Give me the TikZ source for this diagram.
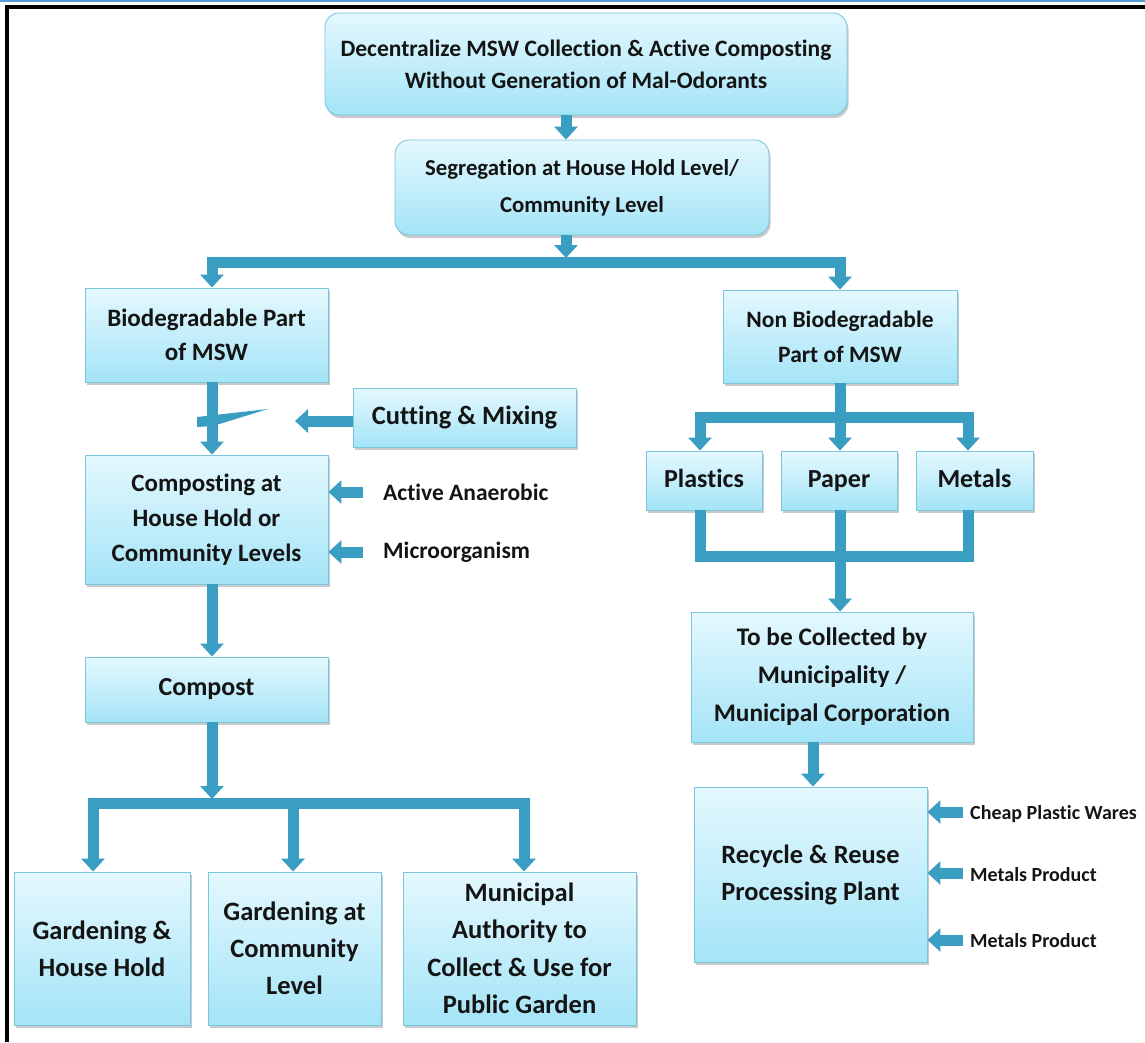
\documentclass[tikz,border=0pt]{standalone}
\usepackage{fontspec}
\setmainfont[Ligatures=NoCommon]{Carlito}
\usetikzlibrary{arrows.meta,shadows,calc}
\definecolor{flowblue}{HTML}{3A9DC2}
\definecolor{boxtop}{HTML}{E4F8FE}
\definecolor{boxbot}{HTML}{A4E4F7}
\definecolor{boxline}{HTML}{7AC6DC}
\definecolor{frameblue}{HTML}{5B9BD5}
\definecolor{ink}{HTML}{141414}
\newcommand{\fs}[2]{\bfseries\fontsize{#1}{#2}\selectfont}
\tikzset{
  stage/.style={draw=boxline, line width=0.9pt, top color=boxtop, bottom color=boxbot,
    align=center, text=ink, inner sep=2pt,
    font=\fs{25}{35},
    drop shadow={shadow xshift=1.5pt, shadow yshift=-3pt, opacity=0.35, fill=black!60}},
  roundstage/.style={stage, rounded corners=14pt},
  wordstage/.style={stage, font=\fs{26}{30}, text height=18pt, text depth=5pt},
  flow/.style={draw=flowblue, line width=11pt, -{Triangle[width=23pt,length=13pt]}},
  barline/.style={draw=flowblue, line width=11pt, line join=miter},
  sidelabel/.style={anchor=west, text=ink, inner sep=0pt, font=\fs{23.5}{26}},
  smalllabel/.style={anchor=west, text=ink, inner sep=0pt, font=\fs{20}{22}},
}
\begin{document}
\begin{tikzpicture}[x=1pt, y=-1pt]
\useasboundingbox (0,0) rectangle (1145,1042);
\fill[white] (0,0) rectangle (1145,1042);
% frame
\draw[frameblue, line width=2pt] (0,1) -- (1145,1);
\draw[black, line width=4.5pt] (7,7) -- (1145,7);
\draw[black, line width=4.5pt] (7,5) -- (7,1042);

% stages
\node[roundstage, minimum width=522pt, minimum height=102pt, font=\fs{23.5}{32}] (top) at (586,64)
  {Decentralize MSW Collection \& Active Composting\\Without Generation of Mal-Odorants};
\node[roundstage, minimum width=374pt, minimum height=95pt, font=\fs{22.8}{37}] (seg) at (582,187.5)
  {Segregation at House Hold Level/\\Community Level};
\node[stage, minimum width=243pt, minimum height=94pt, font=\fs{25}{34}] (bio) at (206.5,335)
  {Biodegradable Part\\of MSW};
\node[stage, minimum width=234pt, minimum height=93pt, font=\fs{23.5}{35}] (nonbio) at (840,336.5)
  {Non Biodegradable\\Part of MSW};
\node[stage, minimum width=223pt, minimum height=59pt, font=\fs{26.5}{30}] (cut) at (464.5,417.5)
  {Cutting \& Mixing};
\node[stage, minimum width=243pt, minimum height=129pt, font=\fs{25}{35}] (compo) at (206.5,519.5)
  {Composting at\\House Hold or\\Community Levels};
\node[stage, minimum width=243pt, minimum height=65pt, font=\fs{26}{30}] (compost) at (206.5,689.5)
  {Compost};
\node[stage, minimum width=176pt, minimum height=153pt, font=\fs{26.5}{37}] (gh) at (102,948.5)
  {Gardening \&\\House Hold};
\node[stage, minimum width=173pt, minimum height=153pt, font=\fs{26.5}{37}] (gc) at (294.5,948.5)
  {Gardening at\\Community\\Level};
\node[stage, minimum width=233pt, minimum height=153pt, font=\fs{26.5}{37.5}] (mun) at (519.5,948.5)
  {Municipal\\Authority to\\Collect \& Use for\\Public Garden};
\node[wordstage, minimum width=116pt, minimum height=59pt] (plastics) at (704,480.5) {Plastics};
\node[wordstage, minimum width=116pt, minimum height=59pt] (paper) at (839,480.5) {Paper};
\node[wordstage, minimum width=117pt, minimum height=59pt] (metals) at (974.5,480.5) {Metals};
\node[stage, minimum width=282pt, minimum height=130pt, font=\fs{25.3}{38}] (coll) at (832,677)
  {To be Collected by\\Municipality /\\Municipal Corporation};
\node[stage, minimum width=233pt, minimum height=175pt, font=\fs{26.4}{37}] (rec) at (810.5,874.5)
  {Recycle \& Reuse\\Processing Plant};

% side labels
\node[sidelabel] (anaer) at (383,492) {Active Anaerobic};
\node[sidelabel] (micro) at (383,552) {Microorganism};
\node[smalllabel] (cheap) at (970,814) {Cheap Plastic Wares};
\node[smalllabel] (metp1) at (970,875) {Metals Product};
\node[smalllabel] (metp2) at (970,941) {Metals Product};

% junction points
\coordinate (spine) at (566,0);
\coordinate (splitA) at (566,262);
\coordinate (splitAL) at (212,262);
\coordinate (splitAR) at (840,262);
\coordinate (splitB) at (212,803);
\coordinate (splitBL) at (93,803);
\coordinate (splitBM) at (293,803);
\coordinate (splitBR) at (524,803);
\coordinate (splitC) at (840,417);
\coordinate (splitCL) at (700,417);
\coordinate (splitCR) at (968,417);
\coordinate (mergeL) at (700,556);
\coordinate (mergeR) at (968,556);
\coordinate (cutTip) at (295,421);

% top spine
\draw[flow] (top.south -| spine) -- (seg.north -| spine);
\draw[flow] (seg.south -| spine) -- ($(splitA)+(0,-4)$);
\draw[barline] ($(splitAL)+(-5.5,0)$) -- ($(splitAR)+(5.5,0)$);
\draw[flow] ($(splitAL)+(0,-5.5)$) -- (bio.north -| splitAL);
\draw[flow] ($(splitAR)+(0,-5.5)$) -- (nonbio.north -| splitAR);

% biodegradable branch
\draw[flow] (bio.south -| splitAL) -- (compo.north -| splitAL);
\fill[flowblue] (197,417) -- (268,409) -- (213,426) -- (197,427) -- cycle;
\draw[flow] (cut.west |- cutTip) -- (cutTip);
\draw[flow] ($(anaer.west)+(-20,0)$) -- (compo.east |- anaer.west);
\draw[flow] ($(micro.west)+(-20,0)$) -- (compo.east |- micro.west);
\draw[flow] (compo.south -| splitAL) -- (compost.north -| splitAL);
\draw[flow] (compost.south -| splitB) -- ($(splitB)+(0,-4)$);
\draw[barline] ($(splitBL)+(-5.5,0)$) -- ($(splitBR)+(5.5,0)$);
\draw[flow] ($(splitBL)+(0,-5.5)$) -- (gh.north -| splitBL);
\draw[flow] ($(splitBM)+(0,-5.5)$) -- (gc.north -| splitBM);
\draw[flow] ($(splitBR)+(0,-5.5)$) -- (mun.north -| splitBR);

% non-biodegradable branch
\draw[barline] (nonbio.south -| splitC) -- (splitC);
\draw[barline] ($(splitCL)+(-5.5,0)$) -- ($(splitCR)+(5.5,0)$);
\draw[flow] ($(splitCL)+(0,-5.5)$) -- (plastics.north -| splitCL);
\draw[flow] (splitC) -- (paper.north -| splitC);
\draw[flow] ($(splitCR)+(0,-5.5)$) -- (metals.north -| splitCR);
\draw[barline] (plastics.south -| mergeL) -- ($(mergeL)+(0,5.5)$);
\draw[barline] (metals.south -| mergeR) -- ($(mergeR)+(0,5.5)$);
\draw[barline] ($(mergeL)+(-5.5,0)$) -- ($(mergeR)+(5.5,0)$);
\draw[flow] (paper.south -| splitC) -- (coll.north -| splitC);
\draw[flow] (coll.south -| 813,0) -- (rec.north -| 813,0);
\draw[flow] ($(cheap.west)+(-7,-2)$) -- (rec.east |- 0,812);
\draw[flow] ($(metp1.west)+(-7,-2)$) -- (rec.east |- 0,873);
\draw[flow] ($(metp2.west)+(-7,-1)$) -- (rec.east |- 0,940);
\end{tikzpicture}
\end{document}
